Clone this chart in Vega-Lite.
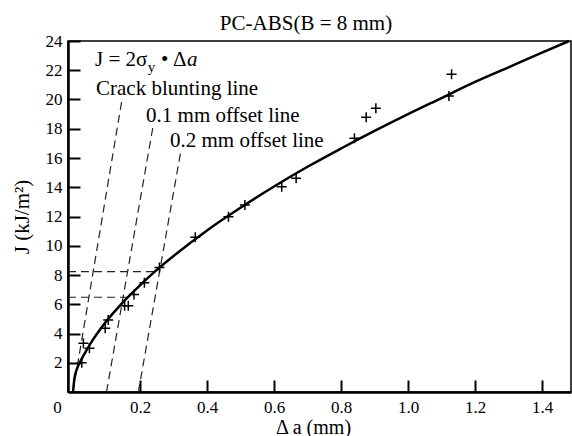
{
  "$schema": "https://vega.github.io/schema/vega-lite/v6.json",
  "width": 503,
  "height": 351,
  "autosize": {"type": "none"},
  "padding": {"left": 68, "top": 41, "right": 1, "bottom": 44},
  "background": "white",
  "config": {"view": {"stroke": "black", "strokeWidth": 1.5}, "font": "Liberation Serif"},
  "title": {"text": "PC-ABS(B = 8 mm)", "font": "Liberation Serif", "fontSize": 21, "fontWeight": "normal", "color": "black", "anchor": "middle", "frame": "group", "dx": -13.5, "dy": 30, "baseline": "alphabetic", "offset": 11},
  "datasets": {
    "curve": [
      {"x": 0, "y": 0}, {"x": 0.004, "y": 0.9}, {"x": 0.012, "y": 1.6}, {"x": 0.022, "y": 2.1},
      {"x": 0.04, "y": 2.85}, {"x": 0.06, "y": 3.6}, {"x": 0.08, "y": 4.25}, {"x": 0.1, "y": 4.85},
      {"x": 0.13, "y": 5.65}, {"x": 0.16, "y": 6.4}, {"x": 0.2, "y": 7.3}, {"x": 0.25, "y": 8.35},
      {"x": 0.3, "y": 9.3}, {"x": 0.4, "y": 11.05}, {"x": 0.5, "y": 12.6}, {"x": 0.6, "y": 14.05},
      {"x": 0.7, "y": 15.4}, {"x": 0.8, "y": 16.65}, {"x": 0.9, "y": 17.85}, {"x": 1.0, "y": 19.0},
      {"x": 1.1, "y": 20.1}, {"x": 1.2, "y": 21.2}, {"x": 1.3, "y": 22.2}, {"x": 1.4, "y": 23.2},
      {"x": 1.481, "y": 24.0}
    ],
    "points": [
      {"x": 0.026, "y": 2.0}, {"x": 0.031, "y": 3.33}, {"x": 0.049, "y": 2.99}, {"x": 0.096, "y": 4.36},
      {"x": 0.105, "y": 4.92}, {"x": 0.154, "y": 5.9}, {"x": 0.165, "y": 5.9}, {"x": 0.182, "y": 6.67},
      {"x": 0.213, "y": 7.47}, {"x": 0.258, "y": 8.51}, {"x": 0.365, "y": 10.58}, {"x": 0.464, "y": 11.99},
      {"x": 0.513, "y": 12.79}, {"x": 0.623, "y": 14.04}, {"x": 0.666, "y": 14.61}, {"x": 0.84, "y": 17.35},
      {"x": 0.875, "y": 18.78}, {"x": 0.904, "y": 19.4}, {"x": 1.122, "y": 20.24}, {"x": 1.13, "y": 21.72}
    ],
    "guides": [
      {"seg": "blunting", "x": 0, "y": 0}, {"seg": "blunting", "x": 0.147, "y": 20.1},
      {"seg": "off01", "x": 0.1, "y": 0}, {"seg": "off01", "x": 0.238, "y": 18.05},
      {"seg": "off02", "x": 0.195, "y": 0}, {"seg": "off02", "x": 0.322, "y": 16.5},
      {"seg": "h1", "x": -0.015, "y": 8.23}, {"seg": "h1", "x": 0.26, "y": 8.23},
      {"seg": "h2", "x": -0.015, "y": 6.48}, {"seg": "h2", "x": 0.16, "y": 6.48}
    ],
    "labels": [
      {"x": 0.0687, "y": 20.31, "t": "Crack blunting line"},
      {"x": 0.218, "y": 18.48, "t": "0.1 mm offset line"},
      {"x": 0.2896, "y": 16.73, "t": "0.2 mm offset line"},
      {"x": 0.0657, "y": 22.29, "t": "J = 2σ"},
      {"x": 0.2627, "y": 22.29, "t": "•"},
      {"x": 0.2985, "y": 22.29, "t": "Δ"}
    ],
    "eqsub": [{"x": 0.223, "y": 21.9, "t": "y"}],
    "eqit": [{"x": 0.3403, "y": 22.29, "t": "a"}]
  },
  "encoding": {
    "x": {
      "field": "x", "type": "quantitative",
      "scale": {"domain": [-0.015, 1.4865], "nice": false, "zero": false},
      "axis": {
        "values": [0, 0.2, 0.4, 0.6, 0.8, 1.0, 1.2, 1.4],
        "labelExpr": "datum.value == 0 ? '0' : format(datum.value, '.1f')",
        "labelFont": "Liberation Serif", "labelFontSize": 17, "labelColor": "black",
        "labelFlush": false, "labelOverlap": false, "labelBound": false,
        "labelPadding": 19,
        "labelOffset": {"condition": {"test": "datum.value == 0", "value": -16}, "value": 0},
        "tickOpacity": {"condition": {"test": "datum.value == 0", "value": 0}, "value": 1},
        "domainColor": "black", "domainWidth": 2.5,
        "tickColor": "black", "tickWidth": 2, "tickSize": -12,
        "grid": false,
        "title": "Δ a (mm)", "titleFont": "Liberation Serif", "titleFontSize": 20, "titleFontWeight": "normal", "titleColor": "black",
        "titleX": 245, "titleY": 35, "titleBaseline": "middle", "titleAlign": "center"
      }
    },
    "y": {
      "field": "y", "type": "quantitative",
      "scale": {"domain": [0, 24], "nice": false},
      "axis": {
        "values": [2, 4, 6, 8, 10, 12, 14, 16, 18, 20, 22, 24],
        "labelFont": "Liberation Serif", "labelFontSize": 17, "labelColor": "black",
        "labelFlush": false, "labelOverlap": false, "labelBound": false,
        "labelPadding": 18,
        "domainColor": "black", "domainWidth": 2.5,
        "tickColor": "black", "tickWidth": 2, "tickSize": -12,
        "grid": false,
        "title": "J (kJ/m²)", "titleFont": "Liberation Serif", "titleFontSize": 21, "titleFontWeight": "normal", "titleColor": "black",
        "titleX": -46, "titleY": 175.5, "titleBaseline": "middle", "titleAlign": "center", "titleAngle": -90
      }
    }
  },
  "layer": [
    {
      "data": {"name": "guides"},
      "mark": {"type": "line", "stroke": "#222", "strokeWidth": 1.2, "strokeDash": [8, 5]},
      "encoding": {"detail": {"field": "seg", "type": "nominal"}}
    },
    {
      "data": {"name": "curve"},
      "mark": {"type": "line", "stroke": "black", "strokeWidth": 2.5, "interpolate": "monotone"},
      "encoding": {}
    },
    {
      "data": {"name": "points"},
      "mark": {"type": "point", "shape": "M-1,0L1,0M0,-1L0,1", "filled": false, "stroke": "black", "strokeWidth": 1.5, "size": 100, "opacity": 1},
      "encoding": {}
    },
    {
      "data": {"name": "labels"},
      "mark": {"type": "text", "align": "left", "baseline": "alphabetic", "font": "Liberation Serif", "fontSize": 21, "color": "black"},
      "encoding": {"text": {"field": "t"}}
    },
    {
      "data": {"name": "eqsub"},
      "mark": {"type": "text", "align": "left", "baseline": "alphabetic", "font": "Liberation Serif", "fontSize": 15, "color": "black"},
      "encoding": {"text": {"field": "t"}}
    },
    {
      "data": {"name": "eqit"},
      "mark": {"type": "text", "align": "left", "baseline": "alphabetic", "font": "Liberation Serif", "fontSize": 21, "fontStyle": "italic", "color": "black"},
      "encoding": {"text": {"field": "t"}}
    }
  ]
}
